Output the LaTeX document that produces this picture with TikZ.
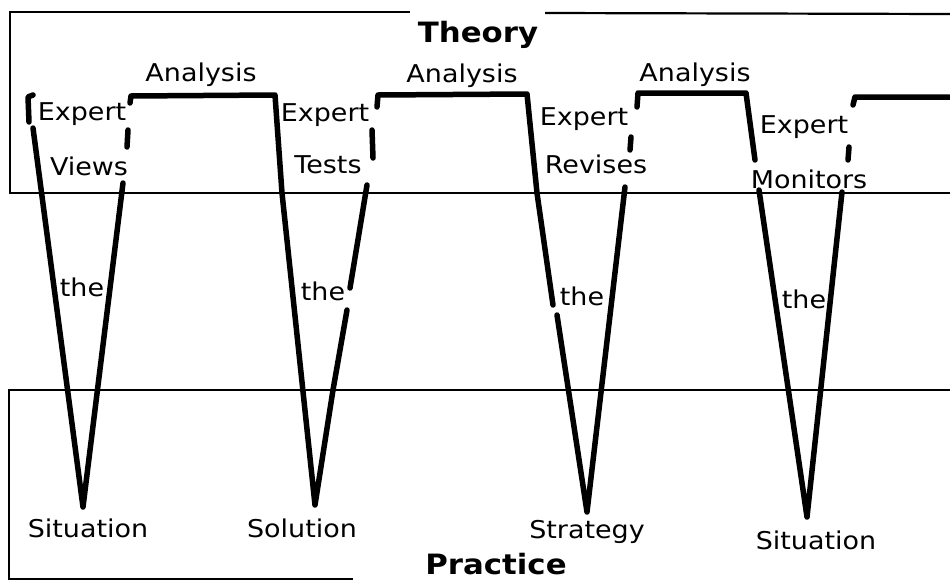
\documentclass[tikz,border=0pt]{standalone}
\usepackage{fontspec}
\newfontfamily\labelfont{DejaVu Sans}[FakeStretch=1.1]
\usepackage{tikz}
\usetikzlibrary{positioning}

\begin{document}
\begin{tikzpicture}[
  x=1pt, y=-1pt,
  frame/.style={line width=2.2pt},
  wave/.style={line width=5.5pt, line join=round, line cap=round},
  lbl/.style={inner sep=0pt, anchor=base, font=\labelfont\fontsize{24.5}{28}\selectfont},
  title/.style={inner sep=0pt, anchor=base, font=\labelfont\bfseries\fontsize{28}{32}\selectfont},
]
\useasboundingbox (0,0) rectangle (950,581);
% frames
\draw[frame] (410,12) -- (10,12) -- (10,193) -- (950,193);
\draw[frame] (545,13) -- (950,14);
\draw[frame] (950,390) -- (9,390) -- (9,579) -- (353,579);
\node[title] (theory) at (478,42) {Theory};
\node[title] (practice) at (496,574) {Practice};
% the wave
\draw[wave] (33,95) -- (28,97) -- (29,122);
\draw[wave] (33,128) -- (83,507) -- (123,183);
\draw[wave] (127,147) -- (128,130);
\draw[wave] (130,103) -- (131,96) -- (275,95) -- (282,193) -- (315,505) -- (333,390) -- (347,310);
\draw[wave] (350,288) -- (367,185);
\draw[wave] (373,158) -- (372,130);
\draw[wave] (377,107) -- (378,95) -- (527,94) -- (537,193) -- (553,305);
\draw[wave] (557,315) -- (587,512) -- (625,187);
\draw[wave] (630,150) -- (631,137);
\draw[wave] (637,107) -- (638,93) -- (746,93) -- (755,160);
\draw[wave] (759,190) -- (807,517) -- (842,192);
\draw[wave] (848,160) -- (849,147);
\draw[wave] (853,105) -- (855,97) -- (950,97);
% labels
\node[lbl] (an1) at (201,81) {Analysis};
\node[lbl] (an2) at (462,82) {Analysis};
\node[lbl] (an3) at (695,81) {Analysis};
\node[lbl] (ex1) at (82,120) {Expert};
\node[lbl] (ex2) at (325,121) {Expert};
\node[lbl] (ex3) at (584,125) {Expert};
\node[lbl] (ex4) at (804,133) {Expert};
\node[lbl] (views) at (89,175) {Views};
\node[lbl] (tests) at (328,173) {Tests};
\node[lbl] (revises) at (596,173) {Revises};
\node[lbl] (monitors) at (809,188) {Monitors};
\node[lbl] (the1) at (82,296) {the};
\node[lbl] (the2) at (323,300) {the};
\node[lbl] (the3) at (582,305) {the};
\node[lbl] (the4) at (804,308) {the};
\node[lbl] (sit1) at (88,537) {Situation};
\node[lbl] (sol) at (302,537) {Solution};
\node[lbl] (strat) at (587,538) {Strategy};
\node[lbl] (sit2) at (816,549) {Situation};
\end{tikzpicture}
\end{document}
